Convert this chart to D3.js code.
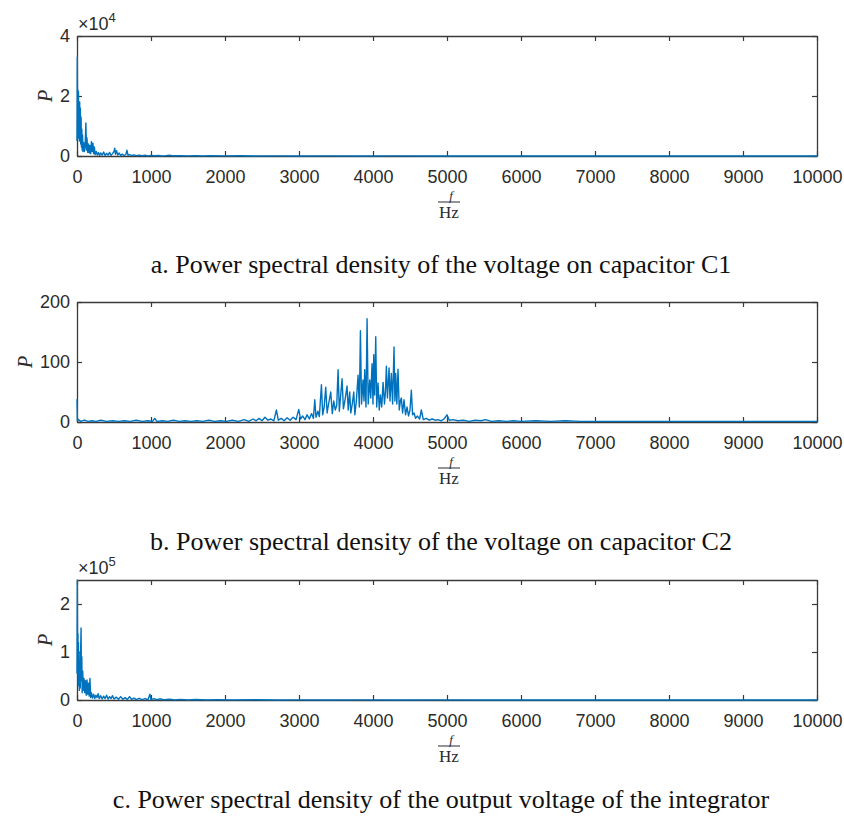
<!DOCTYPE html>
<html>
<head>
<meta charset="utf-8">
<script src="https://cdn.jsdelivr.net/npm/d3@7"></script>
<style>
  body { margin: 0; background: #fff; }
  svg { display: block; }
</style>
</head>
<body>
<svg id="chart" width="844" height="817"></svg>
<script>
// Frequency ticks shared by all three spectra (Hz)
const xTicks = [0, 1000, 2000, 3000, 4000, 5000, 6000, 7000, 8000, 9000, 10000];

// PSD of the voltage on capacitor C1: [frequency Hz, P]
const psdC1 = [
  [0, 5000], [4, 33000], [8, 9000], [12, 22000], [16, 6000], [20, 21500], [24, 7000], [28, 17000],
  [32, 5000], [36, 18000], [40, 8000], [45, 16000], [50, 4000], [55, 13000], [60, 3000], [65, 9000],
  [70, 2000], [75, 7000], [80, 1500], [90, 4500], [100, 1500], [110, 3500], [120, 11000], [128, 2000],
  [135, 6000], [145, 1200], [155, 4000], [165, 1000], [175, 3500], [185, 800], [195, 4800], [205, 1500],
  [215, 4300], [225, 800], [235, 3000], [245, 400], [260, 1500], [275, 300], [290, 1200], [305, 200],
  [320, 1000], [340, 300], [360, 1300], [380, 200], [400, 900], [420, 300], [440, 1200], [460, 200],
  [480, 800], [500, 1500], [510, 2600], [520, 600], [535, 1800], [550, 300], [570, 1000], [590, 200],
  [610, 600], [640, 150], [660, 500], [675, 1900], [690, 200], [710, 500], [740, 100], [770, 400],
  [800, 100], [840, 300], [880, 80], [920, 250], [960, 60], [1000, 200], [1050, 60], [1100, 150],
  [1150, 50], [1200, 120], [1250, 250], [1300, 60], [1400, 120], [1500, 40], [1600, 100], [1700, 30],
  [1800, 80], [2000, 30], [2200, 60], [2400, 20], [2700, 50], [3000, 20], [3400, 40], [3800, 15],
  [4300, 30], [4800, 10], [5400, 25], [6000, 10], [6700, 20], [7400, 8], [8200, 15], [9000, 6],
  [9600, 10], [10000, 5]
];

// PSD of the voltage on capacitor C2: [frequency Hz, P]
const psdC2 = [
  [0, 38], [5, 2], [20, 4], [50, 1], [100, 3], [150, 1], [200, 2], [260, 1], [320, 3], [400, 1],
  [480, 2], [560, 1], [640, 2], [720, 1], [800, 3], [880, 1], [960, 2], [1020, 1], [1050, 6], [1080, 1],
  [1150, 2], [1230, 1], [1300, 3], [1380, 1], [1460, 2], [1540, 1], [1620, 2], [1700, 1], [1780, 3],
  [1860, 1], [1940, 2], [2020, 1], [2100, 3], [2180, 1], [2260, 4], [2320, 1], [2380, 5], [2420, 2],
  [2460, 6], [2500, 2], [2540, 8], [2580, 3], [2620, 5], [2660, 2], [2695, 20], [2720, 3], [2760, 6],
  [2800, 2], [2840, 7], [2880, 3], [2920, 8], [2960, 4], [2997, 21], [3020, 5], [3050, 10], [3080, 4],
  [3110, 12], [3140, 5], [3170, 14], [3195, 6], [3213, 37], [3230, 8], [3255, 18], [3275, 9], [3303, 62],
  [3320, 12], [3340, 25], [3361, 58], [3380, 15], [3400, 30], [3429, 50], [3450, 14], [3470, 35],
  [3490, 20], [3510, 28], [3528, 87], [3545, 18], [3560, 40], [3582, 72], [3600, 22], [3620, 35],
  [3649, 60], [3665, 20], [3685, 50], [3700, 15], [3720, 30], [3740, 50], [3755, 12], [3775, 35],
  [3798, 78], [3815, 25], [3830, 152], [3845, 30], [3865, 70], [3878, 35], [3888, 87], [3905, 25],
  [3920, 172], [3935, 30], [3956, 70], [3970, 40], [3987, 97], [4000, 30], [4010, 112], [4022, 45],
  [4037, 142], [4050, 25], [4068, 65], [4085, 20], [4100, 45], [4118, 25], [4136, 66], [4155, 30],
  [4168, 50], [4181, 93], [4195, 40], [4217, 90], [4230, 35], [4248, 81], [4265, 30], [4284, 125],
  [4296, 35], [4307, 81], [4322, 30], [4338, 88], [4355, 20], [4370, 35], [4383, 40], [4400, 15],
  [4419, 37], [4440, 12], [4460, 25], [4480, 10], [4500, 20], [4518, 53], [4535, 12], [4555, 15],
  [4575, 6], [4600, 10], [4630, 5], [4653, 20], [4680, 4], [4720, 6], [4760, 3], [4800, 5], [4840, 3],
  [4880, 4], [4920, 2], [4960, 5], [5000, 12], [5030, 3], [5080, 4], [5150, 2], [5220, 3], [5300, 1],
  [5380, 3], [5460, 2], [5520, 4], [5600, 1], [5700, 2], [5800, 1], [5900, 2], [6000, 1], [6200, 2],
  [6400, 1], [6600, 2], [6800, 1], [7000, 1], [7300, 1], [7600, 1], [8000, 1], [8500, 1], [9000, 1],
  [9500, 1], [10000, 1]
];

// PSD of the integrator output voltage: [frequency Hz, P]
const psdOut = [
  [0, 55000], [4, 250000], [8, 60000], [12, 138000], [16, 30000], [20, 120000], [24, 40000], [28, 100000],
  [32, 20000], [38, 80000], [44, 25000], [50, 110000], [55, 150000], [60, 40000], [65, 90000], [70, 15000],
  [78, 60000], [85, 20000], [95, 45000], [105, 15000], [115, 40000], [125, 10000], [135, 42000], [145, 12000],
  [155, 35000], [165, 8000], [175, 45000], [185, 5000], [195, 15000], [210, 4000], [225, 12000], [240, 3000],
  [255, 10000], [270, 5000], [285, 13000], [300, 3000], [320, 9000], [340, 2000], [360, 8000], [380, 3000],
  [400, 10000], [420, 2000], [440, 7000], [460, 3000], [480, 9000], [500, 2000], [530, 6000], [560, 1500],
  [590, 7000], [620, 1500], [650, 5000], [680, 1000], [710, 7000], [740, 1000], [770, 4000], [800, 800],
  [840, 3500], [880, 700], [920, 3000], [960, 500], [985, 12000], [1000, 800], [1040, 3000], [1080, 500],
  [1120, 2500], [1180, 400], [1250, 1500], [1320, 300], [1400, 1200], [1500, 300], [1600, 900], [1750, 200],
  [1900, 600], [2100, 200], [2400, 400], [2700, 150], [3000, 300], [3400, 100], [3800, 250], [4300, 100],
  [4800, 200], [5400, 80], [6000, 150], [6700, 60], [7400, 120], [8200, 50], [9000, 100], [9600, 40],
  [10000, 30]
];

const yTicksC1 = [0, 20000, 40000];
const yTicksC2 = [0, 100, 200];
const yTicksOut = [0, 100000, 200000];

const captions = [
  "a. Power spectral density of the voltage on capacitor C1",
  "b. Power spectral density of the voltage on capacitor C2",
  "c. Power spectral density of the output voltage of the integrator"
];

// Layout
const plotLeft = 77, plotRight = 817, plotH = 120;
const axisColor = "#3a3a3a";
const textColor = "#2b2b2b";
const lineColor = "#0072BD";
const sansFont = "'Liberation Sans', Arial, sans-serif";
const serifFont = "'Liberation Serif', 'Times New Roman', serif";

const panels = [
  { data: psdC1, yMax: 40000, yTicks: yTicksC1, exp: 4, caption: captions[0], top: 36, captionY: 273 },
  { data: psdC2, yMax: 200, yTicks: yTicksC2, exp: 0, caption: captions[1], top: 302, captionY: 550 },
  { data: psdOut, yMax: 250000, yTicks: yTicksOut, exp: 5, caption: captions[2], top: 580, captionY: 808 }
];

const svg = d3.select("#chart");
const x = d3.scaleLinear().domain([0, 10000]).range([plotLeft, plotRight]);

panels.forEach((p, i) => {
  const top = p.top, bottom = p.top + plotH;
  const y = d3.scaleLinear().domain([0, p.yMax]).range([bottom, top]);
  const g = svg.append("g");
  const div = Math.pow(10, p.exp);
  const fmt = d => String(d / div);

  // Axes: ticks point inward, box drawn on all four sides
  const styleAxis = sel => {
    sel.select(".domain").attr("stroke", axisColor).attr("stroke-width", 1.3).attr("fill", "none");
    sel.selectAll(".tick line").attr("stroke", axisColor).attr("stroke-width", 1.2);
    sel.selectAll("text").attr("fill", textColor).style("font-family", sansFont).style("font-size", "18px");
  };

  g.append("g").attr("transform", `translate(0,${bottom})`)
    .call(d3.axisBottom(x).tickValues(xTicks).tickSizeInner(-5).tickSizeOuter(0).tickPadding(14).tickFormat(d3.format("d")))
    .call(styleAxis);
  g.append("g").attr("transform", `translate(0,${top})`)
    .call(d3.axisTop(x).tickValues(xTicks).tickSizeInner(-5).tickSizeOuter(0).tickFormat(""))
    .call(styleAxis);
  const yAxisG = g.append("g").attr("transform", `translate(${plotLeft},0)`)
    .call(d3.axisLeft(y).tickValues(p.yTicks).tickSizeInner(-5).tickSizeOuter(0).tickPadding(7).tickFormat(fmt))
    .call(styleAxis);
  g.append("g").attr("transform", `translate(${plotRight},0)`)
    .call(d3.axisRight(y).tickValues(p.yTicks).tickSizeInner(-5).tickSizeOuter(0).tickFormat(""))
    .call(styleAxis);

  // Exponent multiplier above the axes
  if (p.exp) {
    const t = g.append("text").attr("x", plotLeft + 1).attr("y", top - 6)
      .attr("fill", textColor).style("font-family", sansFont).style("font-size", "18px");
    t.append("tspan").text("\u00d710");
    t.append("tspan").attr("dy", -8).style("font-size", "13px").text(p.exp);
  }

  // Spectrum trace
  const clipId = `clip${i}`;
  svg.append("clipPath").attr("id", clipId).append("rect")
    .attr("x", plotLeft - 1).attr("y", top - 1).attr("width", plotRight - plotLeft + 2).attr("height", plotH + 2);
  const line = d3.line().x(d => x(d[0])).y(d => y(d[1]));
  g.append("path").datum(p.data)
    .attr("clip-path", `url(#${clipId})`)
    .attr("d", line)
    .attr("fill", "none").attr("stroke", lineColor).attr("stroke-width", 1.4)
    .attr("stroke-linejoin", "round");

  // Y label placed just left of the widest tick label
  let labelLeft = plotLeft - 17;
  yAxisG.selectAll(".tick text").each(function () {
    const b = this.getBBox();
    const m = this.parentNode.transform.baseVal.consolidate();
    const tx = m ? m.matrix.e : 0;
    labelLeft = Math.min(labelLeft, plotLeft + tx + b.x);
  });
  g.append("text")
    .attr("transform", `translate(${labelLeft - 15},${top + plotH / 2}) rotate(-90)`)
    .attr("text-anchor", "middle").attr("dy", "0.35em").attr("fill", textColor)
    .style("font-family", serifFont).style("font-style", "italic").style("font-size", "20px")
    .text("P");

  // X label: f over Hz
  const cx = x(5000) + 2;
  g.append("text").attr("x", cx + 2).attr("y", bottom + 44).attr("text-anchor", "middle")
    .attr("fill", textColor).style("font-family", serifFont).style("font-style", "italic").style("font-size", "13px")
    .text("f");
  g.append("line").attr("x1", cx - 11).attr("x2", cx + 11).attr("y1", bottom + 46).attr("y2", bottom + 46)
    .attr("stroke", textColor).attr("stroke-width", 1);
  g.append("text").attr("x", cx).attr("y", bottom + 62).attr("text-anchor", "middle")
    .attr("fill", textColor).style("font-family", serifFont).style("font-size", "17px")
    .text("Hz");

  // Caption
  svg.append("text").attr("x", 441).attr("y", p.captionY).attr("text-anchor", "middle")
    .attr("fill", "#111").style("font-family", serifFont).style("font-size", "26px")
    .text(p.caption);
});
</script>
</body>
</html>
